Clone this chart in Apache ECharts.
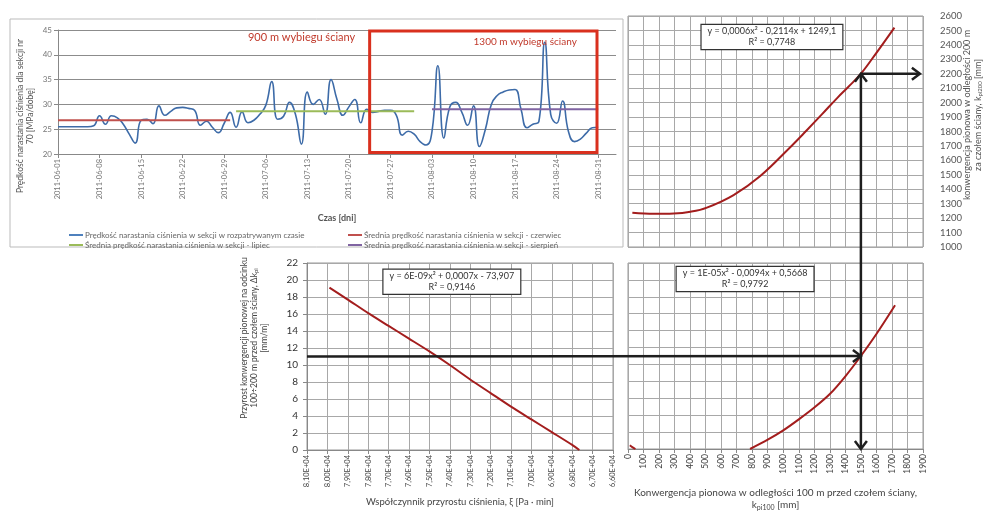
<!DOCTYPE html>
<html>
<head>
<meta charset="utf-8">
<script src="https://cdn.jsdelivr.net/npm/echarts@6/dist/echarts.min.js"></script>
<style>
html, body { margin: 0; padding: 0; background: #fff; }
#main { width: 990px; height: 512px; }
</style>
</head>
<body>
<div id="main"></div>
<script>
// top-left: pressure growth rate in section 70, one value per day from 2011-06-01
const dayCount = 95; // axis runs a few days past 08-31
const rate = [
  25.5, 25.5, 25.5, 25.5, 25.5, 25.5, 25.7, 27.7, 26.0, 27.7,
  27.3, 26.0, 24.0, 22.2, 26.8, 27.0, 26.1, 29.7, 27.8, 28.6,
  29.3, 29.4, 29.2, 28.8, 25.8, 26.6, 25.4, 24.3, 26.2, 28.4,
  25.4, 28.5, 26.3, 26.8, 28.0, 29.8, 34.6, 27.0, 27.6, 30.4,
  28.0, 22.0, 32.5, 30.0, 31.0, 28.0, 35.0, 31.0, 27.8, 29.5,
  31.0, 26.3, 29.0, 28.4, 28.6, 28.8, 28.8, 27.8, 23.8, 24.6,
  24.0, 22.5, 21.8, 24.5, 37.8, 23.2, 29.5, 30.4, 28.5, 25.8,
  29.7, 21.5, 25.0, 30.0, 31.8, 32.5, 32.9, 33.0, 29.0, 25.3,
  26.0, 26.5, 42.5, 28.0, 26.2, 30.7, 24.5, 22.5, 23.0, 24.2,
  25.3, 25.4
];
// monthly means: [first day index, last day index, value]
const meanJune = [0, 29, 26.8];
const meanJuly = [30, 60, 28.6];
const meanAug = [63, 91, 29.0];
const seriesNames = [
  "Prędkość narastania ciśnienia w sekcji w rozpatrywanym czasie",
  "Średnia prędkość narastania ciśnienia w sekcji - czerwiec",
  "Średnia prędkość narastania ciśnienia w sekcji - lipiec",
  "Średnia prędkość narastania ciśnienia w sekcji - sierpień"
];

// top-right: convergence 200 m behind face vs convergence 100 m before face
const k100Top = [28, 167, 295, 402, 508, 680, 850, 1053, 1150, 1250, 1350, 1420, 1500, 1600, 1716];
const k200 = [1238, 1230, 1232, 1244, 1273, 1360, 1490, 1700, 1807, 1920, 2035, 2110, 2200, 2345, 2520];

// bottom-left: convergence increase vs pressure growth coefficient
const xi = [79900, 79000, 78000, 77000, 76000, 75000, 74000, 73000, 72000, 71000, 70000, 69000, 68000, 67650];
const dkLeft = [19.1, 17.7, 16.1, 14.6, 13.1, 11.6, 10.0, 8.3, 6.7, 5.1, 3.6, 2.1, 0.6, 0];

// bottom-right: convergence increase vs convergence 100 m before face
const k100Bot = [786, 900, 1000, 1100, 1200, 1300, 1400, 1500, 1600, 1720];
const dkRight = [0, 1.1, 2.2, 3.5, 4.9, 6.5, 8.6, 11.0, 13.6, 17.0];
const k100Near = [12, 30, 48];
const dkNear = [0.45, 0.2, 0];

// reading path drawn with arrows
const readK100 = 1500, readK200 = 2200, readDk = 11;

const days = [];
for (let i = 0; i < dayCount; i++) {
  const d = new Date(Date.UTC(2011, 5, 1 + i));
  days.push(d.toISOString().slice(0, 10));
}
const meanLine = (m) => [[days[m[0]], m[2]], [days[m[1]], m[2]]];

const FONT = "Lato";
const gridColor = "#a8a8a8";
const curveRed = "#a31d1d";
const plain = (v) => String(v);

const myChart = echarts.init(document.getElementById("main"));

const option = {
  animation: false,
  textStyle: { fontFamily: FONT },
  grid: [
    { left: 58, top: 30, width: 558, height: 124 },
    { left: 628, top: 16, width: 295, height: 231, show: true, borderColor: "#999" },
    { left: 307, top: 263, width: 306, height: 187, show: true, borderColor: "#999" },
    { left: 628, top: 263, width: 295, height: 187, show: true, borderColor: "#999" }
  ],
  legend: [
    {
      data: [seriesNames[0], seriesNames[2]],
      orient: "vertical", left: 64, top: 226, itemGap: 2,
      itemWidth: 14, itemHeight: 2, icon: "rect",
      textStyle: { fontSize: 8, color: "#666", fontFamily: FONT, padding: [0, 0, 0, -3] }
    },
    {
      data: [seriesNames[1], seriesNames[3]],
      orient: "vertical", left: 343, top: 226, itemGap: 2,
      itemWidth: 14, itemHeight: 2, icon: "rect",
      textStyle: { fontSize: 8, color: "#666", fontFamily: FONT, padding: [0, 0, 0, -3] }
    }
  ],
  xAxis: [
    {
      gridIndex: 0, type: "category", data: days, boundaryGap: false,
      name: "Czas [dni]", nameLocation: "middle", nameGap: 60,
      nameTextStyle: { fontSize: 9, color: "#555", fontWeight: "bold" },
      axisLine: { lineStyle: { color: "#888" } },
      axisTick: { interval: 6, length: 4, lineStyle: { color: "#888" } },
      axisLabel: { interval: 6, rotate: 90, fontSize: 7.5, color: "#777", margin: 5 },
      splitLine: { show: false }
    },
    {
      gridIndex: 1, type: "value", min: 0, max: 1900, interval: 100,
      axisLine: { show: false }, axisTick: { show: false }, axisLabel: { show: false },
      splitLine: { lineStyle: { color: gridColor } }
    },
    {
      gridIndex: 2, type: "value", min: 66000, max: 81000, interval: 1000, inverse: true,
      name: "Współczynnik przyrostu ciśnienia, ξ [Pa · min]",
      nameLocation: "middle", nameGap: 47,
      nameTextStyle: { fontSize: 9.5, color: "#444" },
      axisLine: { lineStyle: { color: "#888" } },
      axisTick: { length: 4, lineStyle: { color: "#888" } },
      axisLabel: {
        rotate: 90, fontSize: 7.5, color: "#444", margin: 5,
        formatter: (v) => (v / 10000).toFixed(2).replace(".", ",") + "E+04"
      },
      splitLine: { lineStyle: { color: gridColor } }
    },
    {
      gridIndex: 3, type: "value", min: 0, max: 1900, interval: 100,
      name: "Konwergencja pionowa w odległości 100 m przed czołem ściany,\nk{sub|pi100} [mm]",
      nameLocation: "middle", nameGap: 38,
      nameTextStyle: {
        fontSize: 10, color: "#444", lineHeight: 12,
        rich: { sub: { fontSize: 7, verticalAlign: "bottom", color: "#444", padding: [6, 0, 0, 0] } }
      },
      axisLine: { lineStyle: { color: "#888" } },
      axisTick: { length: 4, lineStyle: { color: "#888" } },
      axisLabel: { rotate: 90, fontSize: 8.5, color: "#444", margin: 5, formatter: plain },
      splitLine: { lineStyle: { color: gridColor } }
    }
  ],
  yAxis: [
    {
      gridIndex: 0, type: "value", min: 20, max: 45, interval: 5,
      axisLine: { show: true, lineStyle: { color: "#888" } },
      axisTick: { show: true, length: 4, lineStyle: { color: "#888" } },
      axisLabel: { fontSize: 8, color: "#777", margin: 6 },
      splitLine: { lineStyle: { color: "#8c8c8c" } }
    },
    {
      gridIndex: 1, type: "value", position: "right", min: 1000, max: 2600, interval: 100,
      axisLine: { show: false }, axisTick: { show: false },
      axisLabel: { fontSize: 9.5, color: "#555", margin: 17, formatter: plain },
      splitLine: { lineStyle: { color: gridColor } }
    },
    {
      gridIndex: 2, type: "value", min: 0, max: 22, interval: 2,
      axisLine: { show: true, lineStyle: { color: "#888" } },
      axisTick: { show: true, length: 4, lineStyle: { color: "#888" } },
      axisLabel: { fontSize: 10, color: "#333", margin: 9 },
      splitLine: { lineStyle: { color: gridColor } }
    },
    {
      gridIndex: 3, type: "value", min: 0, max: 22, interval: 2,
      axisLine: { show: false }, axisTick: { show: false }, axisLabel: { show: false },
      splitLine: { lineStyle: { color: gridColor } }
    }
  ],
  series: [
    {
      name: seriesNames[0], type: "line", xAxisIndex: 0, yAxisIndex: 0,
      data: rate, smooth: 0.5, showSymbol: false,
      lineStyle: { color: "#3d6ba8", width: 1.6 }, itemStyle: { color: "#4f81bd" }
    },
    {
      name: seriesNames[1], type: "line", xAxisIndex: 0, yAxisIndex: 0,
      data: meanLine(meanJune), showSymbol: false,
      lineStyle: { color: "#c0504d", width: 2 }, itemStyle: { color: "#c0504d" }
    },
    {
      name: seriesNames[2], type: "line", xAxisIndex: 0, yAxisIndex: 0,
      data: meanLine(meanJuly), showSymbol: false,
      lineStyle: { color: "#9bbb59", width: 2 }, itemStyle: { color: "#9bbb59" }
    },
    {
      name: seriesNames[3], type: "line", xAxisIndex: 0, yAxisIndex: 0,
      data: meanLine(meanAug), showSymbol: false,
      lineStyle: { color: "#8064a2", width: 2 }, itemStyle: { color: "#8064a2" }
    },
    {
      type: "line", xAxisIndex: 1, yAxisIndex: 1, smooth: 0.4, showSymbol: false,
      data: k100Top.map((x, i) => [x, k200[i]]),
      lineStyle: { color: curveRed, width: 2 }
    },
    {
      type: "line", xAxisIndex: 2, yAxisIndex: 2, smooth: 0.2, showSymbol: false,
      data: xi.map((x, i) => [x, dkLeft[i]]),
      lineStyle: { color: curveRed, width: 2 }
    },
    {
      type: "line", xAxisIndex: 3, yAxisIndex: 3, smooth: 0.3, showSymbol: false,
      data: k100Bot.map((x, i) => [x, dkRight[i]]),
      lineStyle: { color: curveRed, width: 2 }
    },
    {
      type: "line", xAxisIndex: 3, yAxisIndex: 3, smooth: 0.4, showSymbol: false,
      data: k100Near.map((x, i) => [x, dkNear[i]]),
      lineStyle: { color: curveRed, width: 2 }
    }
  ]
};

myChart.setOption(option);

// annotations placed through the axes
const px = (ax, v) => myChart.convertToPixel({ xAxisIndex: ax, yAxisIndex: ax }, v);
const arrowStyle = { stroke: "#1e1e1e", lineWidth: 2.5, fill: null };
function line(a, b) {
  return { type: "line", shape: { x1: a[0], y1: a[1], x2: b[0], y2: b[1] }, style: arrowStyle, z: 100 };
}
function head(tip, dir) {
  const s = 8, w = 6;
  let pts;
  if (dir === "right") pts = [[tip[0] - s, tip[1] - w], tip, [tip[0] - s, tip[1] + w]];
  if (dir === "up") pts = [[tip[0] - w, tip[1] + s], tip, [tip[0] + w, tip[1] + s]];
  if (dir === "down") pts = [[tip[0] - w, tip[1] - s], tip, [tip[0] + w, tip[1] - s]];
  return { type: "polyline", shape: { points: pts }, style: arrowStyle, z: 100 };
}
function eqBox(center, l1, l2) {
  return {
    type: "text", x: center[0], y: center[1], z: 90,
    style: {
      text: l1 + "\n" + l2, align: "center", verticalAlign: "middle",
      fontSize: 9, fontFamily: FONT, fill: "#333", lineHeight: 11,
      backgroundColor: "#fff", borderColor: "#333", borderWidth: 1.2, padding: [1, 6, 1, 6]
    }
  };
}

const topHit = px(1, [readK100, readK200]);
const topRight = px(1, [1880, readK200]);
const botBase = px(3, [readK100, 0]);
const botHit = px(3, [readK100, readDk]);
const leftStart = px(2, [81000, readDk]);

const rectA = px(0, [52, 44.8]), rectB = px(0, [53, 44.8]);
const rectC = px(0, [90, 20.3]), rectD = px(0, [91, 20.3]);
const rx1 = (rectA[0] + rectB[0]) / 2, rx2 = rectC[0] + (rectD[0] - rectC[0]) * 0.8;
const txt900 = px(0, [32, 43.5]);
const txt1300 = px(0, [70, 42.6]);

myChart.setOption({
  graphic: [
    { type: "rect", shape: { x: 10, y: 19, width: 613, height: 228 }, style: { stroke: "#bbb", fill: null, lineWidth: 1 }, z: 1 },
    {
      type: "rect", z: 50,
      shape: { x: rx1, y: rectA[1], width: rx2 - rx1, height: rectC[1] - rectA[1] },
      style: { stroke: "#d9301e", lineWidth: 3, fill: null }
    },
    {
      type: "text", x: txt900[0], y: txt900[1], z: 60,
      style: { text: "900 m wybiegu ściany", fontSize: 11, fontFamily: FONT, fill: "#c0392b", verticalAlign: "middle" }
    },
    {
      type: "text", x: txt1300[0], y: txt1300[1], z: 60,
      style: { text: "1300 m wybiegu ściany", fontSize: 10, fontFamily: FONT, fill: "#c0392b", verticalAlign: "middle" }
    },
    {
      type: "text", x: 25, y: 116, rotation: Math.PI / 2, z: 60,
      style: {
        text: "Prędkość narastania ciśnienia dla sekcji nr\n70 [MPa/dobę]",
        fontSize: 8.5, fontFamily: FONT, fill: "#555", align: "center", verticalAlign: "middle", lineHeight: 10
      }
    },
    {
      type: "text", x: 973, y: 115, rotation: Math.PI / 2, z: 60,
      style: {
        text: "konwergencja pionowa w odległości 200 m\nza czołem ściany, k{sub|pi200} [mm]",
        fontSize: 9, fontFamily: FONT, fill: "#555", align: "center", verticalAlign: "middle", lineHeight: 11,
        rich: { sub: { fontSize: 6, fontFamily: FONT, fill: "#555", padding: [4, 0, 0, 0] } }
      }
    },
    {
      type: "text", x: 254, y: 338, rotation: Math.PI / 2, z: 60,
      style: {
        text: "Przyrost konwergencji pionowej na odcinku\n100÷200 m przed czołem ściany, Δk{sub|pi}\n[mm/m]",
        fontSize: 8.5, fontFamily: FONT, fill: "#444", align: "center", verticalAlign: "middle", lineHeight: 10,
        rich: { sub: { fontSize: 6, fontFamily: FONT, fill: "#444", padding: [4, 0, 0, 0] } }
      }
    },
    eqBox(px(1, [927, 2455]), "y = 0,0006x² - 0,2114x + 1249,1", "R² = 0,7748"),
    eqBox(px(2, [73900, 19.8]), "y = 6E-09x² + 0,0007x - 73,907", "R² = 0,9146"),
    eqBox(px(3, [754, 20.1]), "y = 1E-05x² - 0,0094x + 0,5668", "R² = 0,9792"),
    line(topHit, botBase),
    head(topHit, "up"),
    head(botBase, "down"),
    line(topHit, topRight),
    head(topRight, "right"),
    line(leftStart, botHit),
    head(botHit, "right")
  ]
});
</script>
</body>
</html>
